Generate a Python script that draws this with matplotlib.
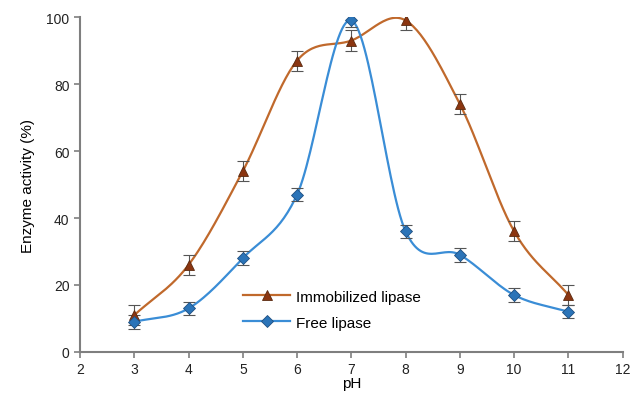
import numpy as np
import matplotlib
matplotlib.use("Agg")
import matplotlib.pyplot as plt

plt.rcParams['font.family'] = ['Liberation Sans', 'DejaVu Sans']

ph = [3, 4, 5, 6, 7, 8, 9, 10, 11]
immobilized = [11, 26, 54, 87, 93, 99, 74, 36, 17]
immobilized_err = [3, 3, 3, 3, 3, 3, 3, 3, 3]
free = [9, 13, 28, 47, 99, 36, 29, 17, 12]
free_err = [2, 2, 2, 2, 2, 2, 2, 2, 2]


def smooth(x, y, n=30):
    # Catmull-Rom style smoothing like the spreadsheet "smoothed line"
    x = np.asarray(x, float)
    y = np.asarray(y, float)
    px = np.concatenate([[2 * x[0] - x[1]], x, [2 * x[-1] - x[-2]]])
    py = np.concatenate([[2 * y[0] - y[1]], y, [2 * y[-1] - y[-2]]])
    xs, ys = [], []
    t = np.linspace(0, 1, n)
    for i in range(1, len(px) - 2):
        for p, out in ((px, xs), (py, ys)):
            p0, p1, p2, p3 = p[i - 1], p[i], p[i + 1], p[i + 2]
            out.extend(0.5 * ((2 * p1) + (-p0 + p2) * t
                              + (2 * p0 - 5 * p1 + 4 * p2 - p3) * t ** 2
                              + (-p0 + 3 * p1 - 3 * p2 + p3) * t ** 3))
    return np.array(xs), np.array(ys)


fig = plt.figure(figsize=(6.4, 4.02), dpi=100)
ax = fig.add_axes([0.125, 0.122, 0.848, 0.833])

imm_line = '#C0692C'
imm_mark = '#8B3510'
free_line = '#3A8DD6'
free_mark = '#2B74B8'

sx, sy = smooth(ph, immobilized)
ax.plot(sx, sy, color=imm_line, lw=1.6, zorder=2)
ax.errorbar(ph, immobilized, yerr=immobilized_err, fmt='none', ecolor='#555555',
            elinewidth=0.8, capsize=4, capthick=0.8, zorder=3)
ax.plot(ph, immobilized, ls='none', marker='^', ms=7, mfc=imm_mark, mec='#5a2a10',
        mew=0.6, zorder=4)

sx, sy = smooth(ph, free)
ax.plot(sx, sy, color=free_line, lw=1.6, zorder=2)
ax.errorbar(ph, free, yerr=free_err, fmt='none', ecolor='#555555',
            elinewidth=0.8, capsize=4, capthick=0.8, zorder=3)
ax.plot(ph, free, ls='none', marker='D', ms=6, mfc=free_mark, mec='#1f4f80',
        mew=0.6, zorder=4)

# legend proxies
h1, = ax.plot([], [], color=imm_line, lw=1.6, marker='^', ms=7, mfc=imm_mark,
              mec='#5a2a10', mew=0.6)
h2, = ax.plot([], [], color=free_line, lw=1.6, marker='D', ms=6, mfc=free_mark,
              mec='#1f4f80', mew=0.6)
ax.legend([h1, h2], ['Immobilized lipase', 'Free lipase'], loc='lower left',
          bbox_to_anchor=(0.275, 0.025), frameon=False, fontsize=11,
          handlelength=3.1, handletextpad=0.35, labelspacing=0.8)

ax.set_xlim(2, 12)
ax.set_ylim(0, 100)
ax.set_xticks(range(2, 13))
ax.set_yticks(range(0, 101, 20))
for s in ('top', 'right'):
    ax.spines[s].set_visible(False)
for s in ('left', 'bottom'):
    ax.spines[s].set_color('#7f7f7f')
    ax.spines[s].set_linewidth(1.5)
ax.tick_params(direction='out', length=4, width=1.2, color='#7f7f7f',
               labelsize=10, labelcolor='#222222')
ax.set_xlabel('pH', fontsize=11, labelpad=0)
ax.set_ylabel('Enzyme activity (%)', fontsize=11, labelpad=8)

fig.savefig('out.png', dpi=100)
